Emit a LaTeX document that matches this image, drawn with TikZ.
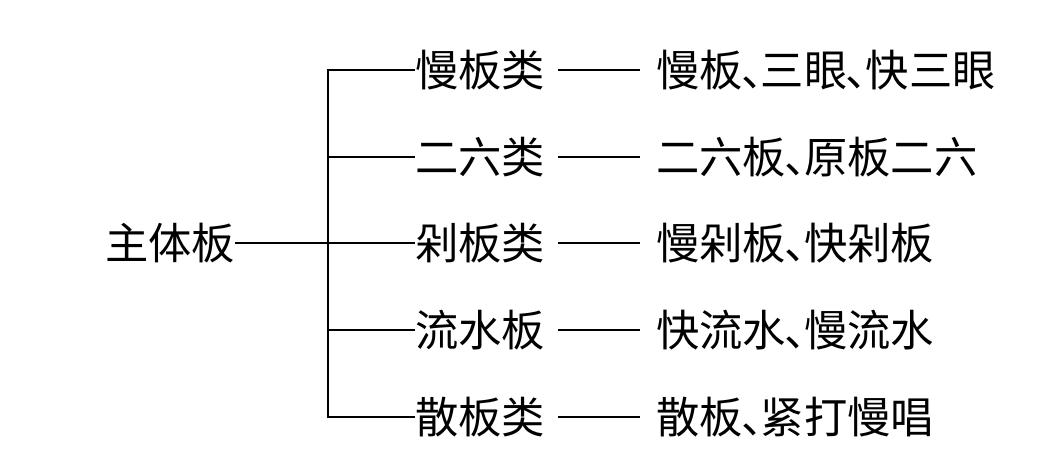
\documentclass[tikz,border=0pt]{standalone}
\usepackage{fontspec}
\usepackage{tikz}
\usetikzlibrary{positioning,calc}
\newfontfamily\cjk{Noto Sans CJK SC}
\newcommand{\dunhao}{\makebox[0.42em][l]{\hspace{-0.04em}、}}

\begin{document}
\begin{tikzpicture}[
    x=1pt, y=-1pt,
    txt/.style={anchor=west, inner sep=0pt, text height=38pt, text depth=5.2pt,
        font=\cjk\fontsize{43.3pt}{50pt}\selectfont},
    branch/.style={line width=1.3pt},
    dashline/.style={line width=2pt, shorten <=13pt, shorten >=16pt}
]
\useasboundingbox (0,0) rectangle (1044,470);

% root
\node[txt] (root) at (105, 243) {主体板};

% classes
\node[txt] (man) at (415, 70) {慢板类};
\node[txt] (erliu) at (415, 157) {二六类};
\node[txt] (duo) at (415, 243) {剁板类};
\node[txt] (liushui) at (415, 330) {流水板};
\node[txt] (san) at (415, 417) {散板类};

% members
\node[txt] (manL) at (656, 70) {慢板\dunhao 三眼\dunhao 快三眼};
\node[txt] (erliuL) at (656, 157) {二六板\dunhao 原板二六};
\node[txt] (duoL) at (656, 243) {慢剁板\dunhao 快剁板};
\node[txt] (liushuiL) at (656, 330) {快流水\dunhao 慢流水};
\node[txt] (sanL) at (656, 417) {散板\dunhao 紧打慢唱};

% tree lines
\draw[branch] (root.east) -- (duo.west);
\draw[branch] (man.west) -- ++(-87, 0) |- (san.west);
\draw[branch] (erliu.west) -- ++(-87, 0);
\draw[branch] (liushui.west) -- ++(-87, 0);

% dashes
\draw[dashline] (man) -- (manL);
\draw[dashline] (erliu) -- (erliuL);
\draw[dashline] (duo) -- (duoL);
\draw[dashline] (liushui) -- (liushuiL);
\draw[dashline] (san) -- (sanL);

\end{tikzpicture}
\end{document}
